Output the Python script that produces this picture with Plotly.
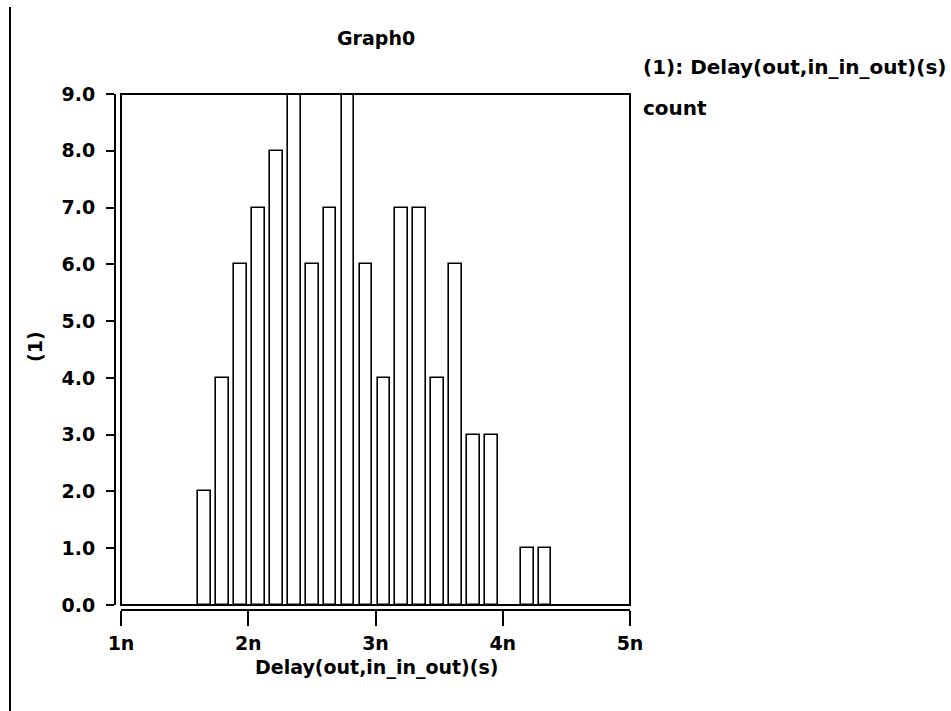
import plotly.graph_objects as go

# ---- data ----
bin_center_ns = [1.658, 1.799, 1.940, 2.080, 2.221, 2.362, 2.503, 2.643, 2.784, 2.925,
                 3.066, 3.206, 3.347, 3.488, 3.629, 3.769, 3.910, 4.192, 4.332]
counts = [2, 4, 6, 7, 8, 9, 6, 7, 9, 6, 4, 7, 7, 4, 6, 3, 3, 1, 1]
x_tick_vals = [1, 2, 3, 4, 5]
x_tick_text = ["1n", "2n", "3n", "4n", "5n"]
y_tick_vals = [0, 1, 2, 3, 4, 5, 6, 7, 8, 9]

title_text = "Graph0"
legend_line1 = "(1): Delay(out,in_in_out)(s)"
legend_line2 = "count"
x_title = "Delay(out,in_in_out)(s)"
y_title = "(1)"

# ---- layout geometry (pixels) ----
W, H = 951, 711
px = lambda x: x / W
py = lambda y: 1 - y / H

FONT = dict(family="DejaVu Sans", size=19, color="black", weight="bold")
LFONT = dict(family="DejaVu Sans", size=20, color="black", weight="bold")

fig = go.Figure()
fig.add_trace(go.Bar(
    x=bin_center_ns, y=counts, width=0.1,
    marker=dict(color="white", line=dict(color="black", width=1.6)),
    xaxis="x", yaxis="y", showlegend=False, hoverinfo="skip",
))

fig.update_layout(
    width=W, height=H, autosize=False,
    margin=dict(l=0, r=0, t=0, b=0),
    paper_bgcolor="white", plot_bgcolor="white",
    showlegend=False, bargap=0,
    xaxis=dict(
        domain=[px(121), px(630)], range=[1, 5],
        anchor="free", position=py(610),
        showline=True, linewidth=2, linecolor="black",
        ticks="outside", ticklen=15, tickwidth=2, tickcolor="black",
        tickvals=x_tick_vals, ticktext=x_tick_text,
        ticklabelstandoff=1,
        showgrid=False, zeroline=False, tickfont=FONT, automargin=False,
    ),
    yaxis=dict(
        domain=[py(605), py(94)], range=[0, 9],
        anchor="free", position=px(115),
        showline=True, linewidth=2, linecolor="black",
        ticks="outside", ticklen=8, tickwidth=2, tickcolor="black",
        tickvals=y_tick_vals, tickformat=".1f",
        ticklabelstandoff=7,
        showgrid=False, zeroline=False, tickfont=FONT, automargin=False,
    ),
)

# plot box
fig.add_shape(type="rect", xref="x domain", yref="y domain", x0=0, x1=1, y0=0, y1=1,
              line=dict(color="black", width=2), fillcolor="rgba(0,0,0,0)", layer="above")
# left window border line
fig.add_shape(type="line", xref="paper", yref="paper", x0=px(10), x1=px(10), y0=py(7), y1=py(711),
              line=dict(color="black", width=2))

ann = [
    dict(text=title_text, x=px(376), y=py(38), xanchor="center", yanchor="middle", font=FONT),
    dict(text=legend_line1, x=px(641), y=py(67), xanchor="left", yanchor="middle", font=LFONT),
    dict(text=legend_line2, x=px(641), y=py(108), xanchor="left", yanchor="middle", font=LFONT),
    dict(text=x_title, x=px(376), y=py(667), xanchor="center", yanchor="middle", font=FONT),
    dict(text=y_title, x=px(35), y=py(347), xanchor="center", yanchor="middle", textangle=-90, font=FONT),
]
for a in ann:
    fig.add_annotation(xref="paper", yref="paper", showarrow=False, **a)

fig.write_html("out.html")
